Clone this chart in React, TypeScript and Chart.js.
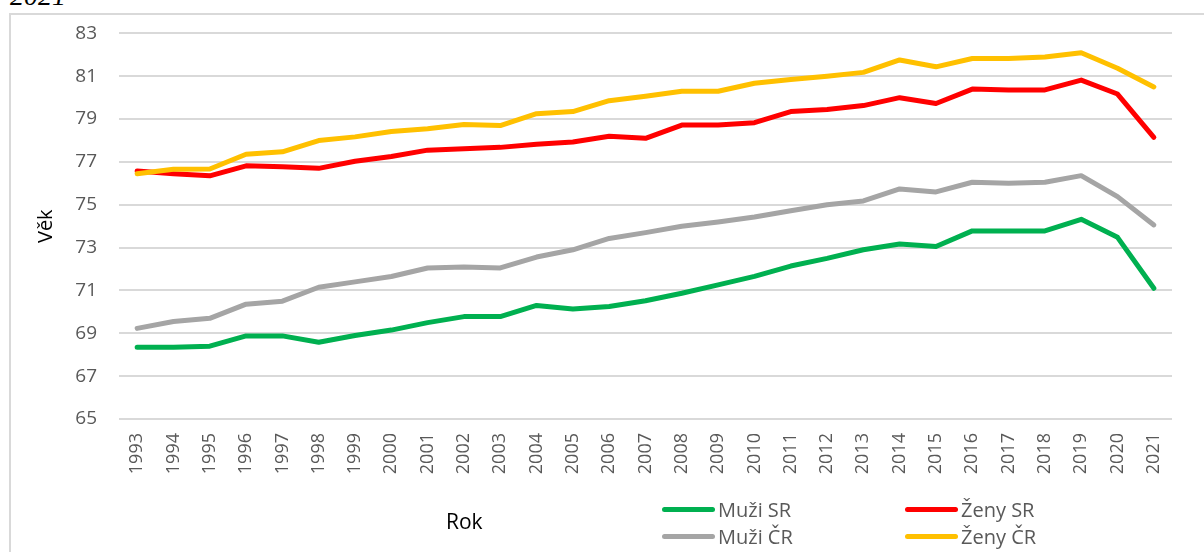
import React, { useEffect, useRef } from "react";
import { Chart, registerables } from "chart.js";

Chart.register(...registerables);

const years = [
  "1993", "1994", "1995", "1996", "1997", "1998", "1999", "2000", "2001", "2002",
  "2003", "2004", "2005", "2006", "2007", "2008", "2009", "2010", "2011", "2012",
  "2013", "2014", "2015", "2016", "2017", "2018", "2019", "2020", "2021",
];

const muziSR = [
  68.35, 68.35, 68.4, 68.88, 68.88, 68.58, 68.9, 69.15, 69.5, 69.78,
  69.78, 70.3, 70.13, 70.25, 70.52, 70.87, 71.26, 71.66, 72.14, 72.5,
  72.9, 73.17, 73.05, 73.78, 73.78, 73.78, 74.32, 73.48, 71.1,
];

const zenySR = [
  76.58, 76.45, 76.35, 76.82, 76.78, 76.7, 77.03, 77.25, 77.55, 77.62,
  77.68, 77.83, 77.93, 78.2, 78.1, 78.72, 78.72, 78.83, 79.35, 79.45,
  79.63, 80.0, 79.73, 80.4, 80.36, 80.36, 80.82, 80.17, 78.15,
];

const muziCR = [
  69.23, 69.55, 69.7, 70.36, 70.5, 71.15, 71.4, 71.65, 72.05, 72.1,
  72.05, 72.56, 72.9, 73.43, 73.7, 74.0, 74.2, 74.43, 74.72, 75.0,
  75.18, 75.74, 75.6, 76.05, 76.0, 76.05, 76.36, 75.38, 74.06,
];

const zenyCR = [
  76.45, 76.66, 76.67, 77.36, 77.47, 78.0, 78.17, 78.42, 78.55, 78.75,
  78.7, 79.25, 79.35, 79.86, 80.07, 80.3, 80.3, 80.67, 80.85, 81.0,
  81.18, 81.76, 81.44, 81.83, 81.83, 81.9, 82.1, 81.37, 80.5,
];

const seriesNames = ["Muži SR", "Ženy SR", "Muži ČR", "Ženy ČR"];
const seriesColors = ["#00B050", "#FF0000", "#A5A5A5", "#FFC000"];
const seriesData = [muziSR, zenySR, muziCR, zenyCR];
const seriesOrder = [3, 2, 1, 0];

const yMin = 65;
const yMax = 83;
const yStep = 2;

const FONT = "'Open Sans', 'Noto Sans', sans-serif";

export default function App() {
  const ref = useRef<HTMLCanvasElement | null>(null);

  useEffect(() => {
    document.body.style.margin = "0";
    const canvas = ref.current;
    if (!canvas) return;
    const chart = new Chart(canvas, {
      type: "line",
      data: {
        labels: years,
        datasets: seriesNames.map((name, i) => ({
          label: name,
          data: seriesData[i],
          borderColor: seriesColors[i],
          backgroundColor: seriesColors[i],
          borderWidth: 5,
          pointRadius: 0,
          pointHoverRadius: 0,
          tension: 0,
          borderCapStyle: "round",
          borderJoinStyle: "round",
          order: seriesOrder[i],
        })),
      },
      options: {
        responsive: false,
        animation: false,
        devicePixelRatio: 1,
        layout: { padding: { top: 33, right: 32, bottom: 73, left: 0 } },
        plugins: {
          legend: { display: false },
          tooltip: { enabled: false },
          title: { display: false },
        },
        scales: {
          x: {
            type: "category",
            offset: true,
            grid: { display: false, drawTicks: false },
            border: { display: false },
            ticks: {
              minRotation: 90,
              maxRotation: 90,
              padding: 14,
              autoSkip: false,
              color: "#595959",
              font: { family: FONT, size: 18 },
            },
            afterFit: (scale: any) => {
              scale.height = 60;
            },
          },
          y: {
            min: yMin,
            max: yMax,
            grid: { color: "#D9D9D9", lineWidth: 2, drawTicks: false },
            border: { display: false },
            ticks: {
              stepSize: yStep,
              padding: 22,
              color: "#595959",
              font: { family: FONT, size: 19 },
            },
            title: {
              display: true,
              text: "Věk",
              color: "#000000",
              font: { family: FONT, size: 20 },
              padding: { top: 34, bottom: 0 },
            },
            afterFit: (scale: any) => {
              scale.width = 119;
            },
          },
        },
      },
    });
    return () => chart.destroy();
  }, []);

  return (
    <div style={{ position: "absolute", left: 0, top: 0, width: 1204, height: 552, overflow: "hidden", background: "#fff" }}>
      <div
        style={{
          position: "absolute",
          left: 9,
          top: 13,
          width: 1300,
          height: 700,
          borderLeft: "2px solid #D9D9D9",
          borderTop: "2px solid #D9D9D9",
        }}
      />
      <div
        style={{
          position: "absolute",
          left: 10,
          top: -18,
          fontFamily: "'Liberation Serif', serif",
          fontStyle: "italic",
          fontSize: 28,
          lineHeight: "28px",
          color: "#000",
        }}
      >
        2021
      </div>
      <canvas ref={ref} width={1204} height={552} style={{ position: "absolute", left: 0, top: 0 }} />
      <div
        style={{
          position: "absolute",
          left: 446,
          top: 507,
          fontFamily: FONT,
          fontSize: 21,
          lineHeight: "28px",
          color: "#000",
        }}
      >
        Rok
      </div>
      {seriesNames.map((name, i) => {
        const col = i % 2;
        const row = Math.floor(i / 2);
        return (
          <div
            key={name}
            style={{
              position: "absolute",
              left: col === 0 ? 662 : 905,
              top: 509 + row * 27 - 14,
              height: 28,
              display: "flex",
              alignItems: "center",
              fontFamily: FONT,
              fontSize: 20,
              color: "#595959",
              whiteSpace: "nowrap",
            }}
          >
            <span
              style={{
                display: "inline-block",
                width: 53,
                height: 5,
                borderRadius: 3,
                background: seriesColors[i],
                marginRight: 3,
              }}
            />
            {name}
          </div>
        );
      })}
    </div>
  );
}
